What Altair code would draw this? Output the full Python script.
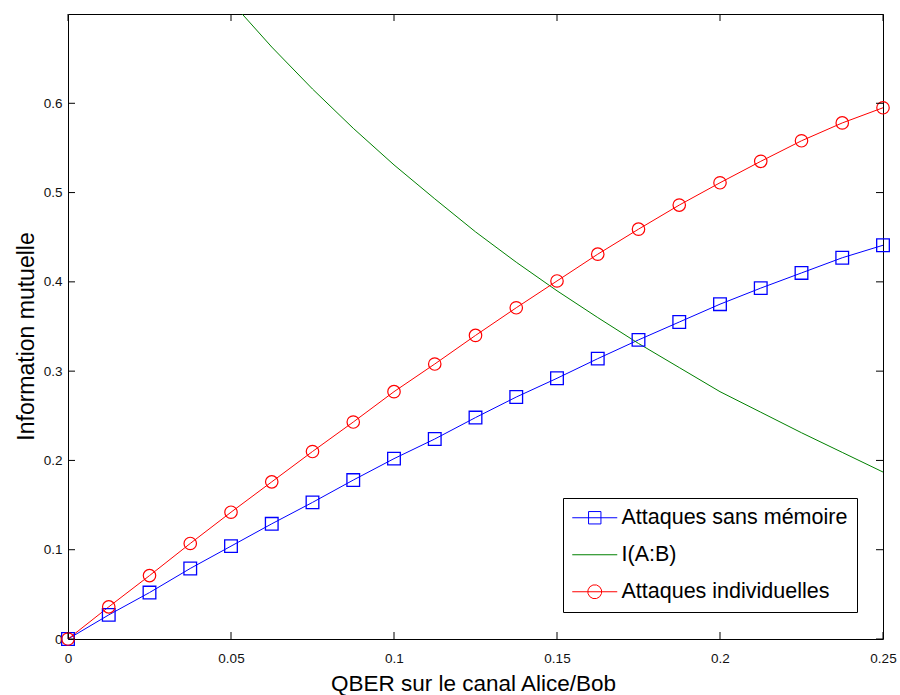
import math
import altair as alt
import pandas as pd

# ---------------- data ----------------
qber = [0, 0.0125, 0.025, 0.0375, 0.05, 0.0625, 0.075, 0.0875, 0.1, 0.1125,
        0.125, 0.1375, 0.15, 0.1625, 0.175, 0.1875, 0.2, 0.2125, 0.225, 0.2375, 0.25]
sans_memoire = [0, 0.027, 0.052, 0.079, 0.104, 0.129, 0.153, 0.178, 0.202, 0.224,
                0.248, 0.271, 0.292, 0.314, 0.335, 0.355, 0.375, 0.393, 0.410, 0.427, 0.441]
individuelles = [0, 0.036, 0.071, 0.107, 0.142, 0.176, 0.210, 0.243, 0.277, 0.308,
                 0.340, 0.371, 0.401, 0.431, 0.459, 0.486, 0.511, 0.535, 0.558, 0.578, 0.595]
qber_iab = [0.05, 0.0625, 0.075, 0.0875, 0.1, 0.1125, 0.125, 0.1375, 0.15, 0.1625,
            0.175, 0.1875, 0.2, 0.2125, 0.225, 0.2375, 0.25]
iab = [0.714, 0.663, 0.616, 0.572, 0.531, 0.493, 0.456, 0.422, 0.390, 0.360,
       0.331, 0.304, 0.277, 0.254, 0.231, 0.209, 0.187]

series_names = ["Attaques sans mémoire", "I(A:B)", "Attaques individuelles"]
series_colors = ["#0000ff", "#008000", "#ff0000"]
x_ticks = [0, 0.05, 0.1, 0.15, 0.2, 0.25]
y_ticks = [0, 0.1, 0.2, 0.3, 0.4, 0.5, 0.6]

# ---------------- frames ----------------
df_blue = pd.DataFrame({"q": qber, "v": sans_memoire})
df_red = pd.DataFrame({"q": qber, "v": individuelles})
df_green = pd.DataFrame({"q": qber_iab, "v": iab})
df_xt = pd.DataFrame({"q": x_ticks})
df_yt = pd.DataFrame({"v": y_ticks})
df_leg = pd.DataFrame({"serie": series_names, "q": [-1.0] * 3, "v": [-1.0] * 3})

W, H = 815, 625
FONT = "Liberation Sans"
LBL = "format(datum.value, '.2~f')"

xscale = alt.Scale(domain=[0, 0.25], nice=False, zero=False)
yscale = alt.Scale(domain=[0, 0.7], nice=False, zero=False)

x_axis = alt.Axis(values=x_ticks, labelExpr=LBL, grid=False, domain=False, ticks=False,
                  labelFont=FONT, labelFontSize=13.5, labelColor="#111", labelPadding=12,
                  labelBaseline="top", labelFlush=False,
                  title="QBER sur le canal Alice/Bob", titleFont=FONT, titleFontSize=22.5,
                  titleFontWeight="normal", titleColor="#000", titleX=405, titleY=51,
                  titleAlign="center", titleBaseline="alphabetic")
y_axis = alt.Axis(values=y_ticks, labelExpr=LBL, grid=False, domain=False, ticks=False,
                  labelFont=FONT, labelFontSize=13.5, labelColor="#111", labelPadding=6,
                  labelBaseline="middle", labelFlush=False,
                  title="Information mutuelle", titleFont=FONT, titleFontSize=23,
                  titleFontWeight="normal", titleColor="#000", titleX=-35, titleY=322,
                  titleAngle=270, titleAlign="center", titleBaseline="alphabetic")

X = alt.X("q:Q", scale=xscale, axis=x_axis, title="QBER sur le canal Alice/Bob")
Y = alt.Y("v:Q", scale=yscale, axis=y_axis, title="Information mutuelle")

blue_line = alt.Chart(df_blue).mark_line(color="#0000ff", strokeWidth=1).encode(x=X, y=Y)
blue_pts = alt.Chart(df_blue).mark_point(shape="square", filled=False, color="#0000ff",
                                         size=160, strokeWidth=1.3, opacity=1).encode(x=X, y=Y)
green_line = alt.Chart(df_green).mark_line(color="#008000", strokeWidth=1, clip=True).encode(x=X, y=Y)
red_line = alt.Chart(df_red).mark_line(color="#ff0000", strokeWidth=1).encode(x=X, y=Y)
red_pts = alt.Chart(df_red).mark_point(shape="circle", filled=False, color="#ff0000",
                                       size=155, strokeWidth=1.2, opacity=1).encode(x=X, y=Y)

# inward ticks on the four sides
TL = 7
tick_b = alt.Chart(df_xt).mark_rule(color="#000", strokeWidth=1).encode(
    x=X, y=alt.value(H), y2=alt.value(H - TL))
tick_t = alt.Chart(df_xt).mark_rule(color="#000", strokeWidth=1).encode(
    x=X, y=alt.value(0), y2=alt.value(TL))
tick_l = alt.Chart(df_yt).mark_rule(color="#000", strokeWidth=1).encode(
    y=Y, x=alt.value(0), x2=alt.value(TL))
tick_r = alt.Chart(df_yt).mark_rule(color="#000", strokeWidth=1).encode(
    y=Y, x=alt.value(W), x2=alt.value(W - TL))

# legend symbols: line with marker (path units scaled by sqrt(size)/2)
LINE = "M-2.25,0L2.25,0"
s = 0.62
SQUARE = LINE + f"M{-s},{-s}L{s},{-s}L{s},{s}L{-s},{s}Z"
r = 0.7
n = 12
pts = [(r * math.cos(2 * math.pi * k / n + math.pi / n), r * math.sin(2 * math.pi * k / n + math.pi / n))
       for k in range(n)]
CIRCLE = LINE + "M" + "L".join(f"{a:.3f},{b:.3f}" for a, b in pts) + "Z"

legend = alt.Legend(title=None, orient="none", legendX=495, legendY=484,
                    symbolSize=400, symbolStrokeWidth=1, symbolOffset=12,
                    labelOffset=16, labelFont=FONT, labelFontSize=21.5, labelColor="#000",
                    labelLimit=0, padding=9, rowPadding=14,
                    strokeColor="#000", fillColor="#fff", cornerRadius=0)

legend_layer = alt.Chart(df_leg).mark_point(filled=False, clip=True, opacity=1).encode(
    x=X, y=Y,
    color=alt.Color("serie:N", scale=alt.Scale(domain=series_names, range=series_colors),
                    legend=legend, sort=series_names),
    shape=alt.Shape("serie:N", scale=alt.Scale(domain=series_names, range=[SQUARE, LINE, CIRCLE]),
                    legend=legend, sort=series_names),
)

chart = alt.layer(
    blue_line, green_line, red_line, blue_pts, red_pts,
    tick_b, tick_t, tick_l, tick_r, legend_layer
).properties(
    width=W, height=H,
    autosize=alt.AutoSizeParams(type="none"),
    padding={"left": 68, "top": 14, "right": 17, "bottom": 56},
    background="#ffffff",
).configure_view(stroke="#000", strokeWidth=1)

chart.save("out.html", embed_options={"renderer": "svg", "actions": False})
